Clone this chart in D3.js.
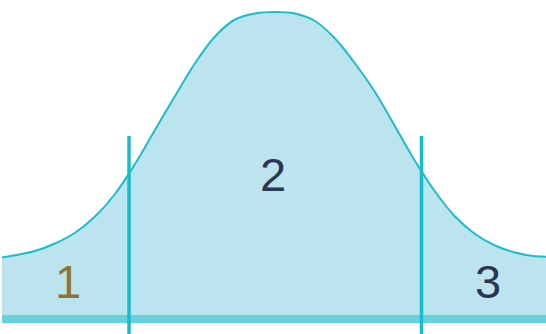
<!DOCTYPE html>
<html>
<head>
<meta charset="utf-8">
<script src="https://cdn.jsdelivr.net/npm/d3@7"></script>
<style>
  html, body { margin: 0; padding: 0; background: #fff; }
  svg { display: block; }
</style>
</head>
<body>
<svg id="chart"></svg>
<script>
// curve samples: x in standard units, height relative to the peak
var zValues = [-2.73, -2.6, -2.4, -2.2, -2.0, -1.8, -1.6, -1.4, -1.2, -1.0, -0.8, -0.6, -0.4, -0.2,
  0, 0.2, 0.4, 0.6, 0.8, 1.0, 1.2, 1.4, 1.6, 1.8, 2.0, 2.2, 2.4, 2.6, 2.71];
var heights = [0.018, 0.027, 0.044, 0.074, 0.117, 0.182, 0.272, 0.392, 0.528, 0.664, 0.795, 0.902, 0.970, 0.994,
  1.0, 0.994, 0.964, 0.894, 0.794, 0.680, 0.542, 0.404, 0.282, 0.182, 0.112, 0.066, 0.038, 0.023, 0.021];

// cut points between the three regions
var cuts = [-1.46, 1.465];
var regionLabels = ["1", "2", "3"];
var labelZ = [-2.07, -0.02, 2.13];
var labelH = [-0.144, 0.284, -0.144];

var width = 546;
var height = 334;
var baseY = 319;

var chart = d3.select("#chart")
  .attr("width", width)
  .attr("height", height);

var x = d3.scaleLinear().domain([-2.75, 2.75]).range([0, 550]);
var y = d3.scaleLinear().domain([0, 1]).range([262, 12]);

var points = zValues.map(function(z, i) { return { z: z, h: heights[i] }; });

var area = d3.area()
  .x(function(d) { return x(d.z); })
  .y0(baseY)
  .y1(function(d) { return y(d.h); })
  .curve(d3.curveCatmullRom.alpha(0.5));

var line = d3.line()
  .x(function(d) { return x(d.z); })
  .y(function(d) { return y(d.h); })
  .curve(d3.curveCatmullRom.alpha(0.5));

chart.append("path")
  .datum(points)
  .attr("d", area)
  .attr("fill", "#bce4ee");

chart.append("path")
  .datum(points)
  .attr("d", line)
  .attr("fill", "none")
  .attr("stroke", "#1ebccb")
  .attr("stroke-width", 2);

// baseline band
chart.append("line")
  .attr("x1", x(zValues[0]))
  .attr("x2", width)
  .attr("y1", baseY)
  .attr("y2", baseY)
  .attr("stroke", "#66d0dc")
  .attr("stroke-width", 8);

// vertical cut lines
chart.selectAll("line.cut")
    .data(cuts)
  .enter().append("line")
    .attr("class", "cut")
    .attr("x1", function(d) { return x(d); })
    .attr("x2", function(d) { return x(d); })
    .attr("y1", y(0.504))
    .attr("y2", height)
    .attr("stroke", "#17bccb")
    .attr("stroke-width", 3.5);

chart.selectAll("text.region")
    .data(regionLabels)
  .enter().append("text")
    .attr("class", "region")
    .attr("x", function(d, i) { return x(labelZ[i]); })
    .attr("y", function(d, i) { return y(labelH[i]); })
    .attr("text-anchor", "middle")
    .attr("font-family", "Liberation Sans, Arial, sans-serif")
    .attr("font-size", 47)
    .attr("fill", function(d, i) { return i === 0 ? "#8f7434" : "#2c3552"; })
    .text(function(d) { return d; });
</script>
</body>
</html>
